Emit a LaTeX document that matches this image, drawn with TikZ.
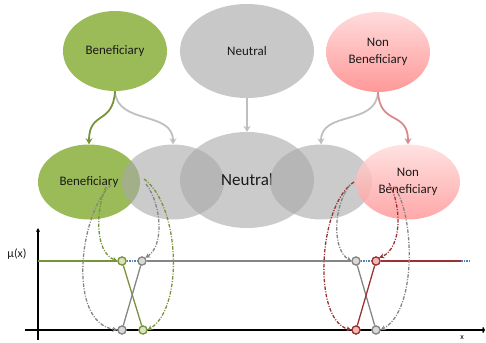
\documentclass[tikz,border=0pt]{standalone}
\usepackage{fontspec}
\setmainfont{Carlito}
\usetikzlibrary{shapes.geometric,arrows.meta}
\definecolor{grn}{HTML}{9BBB59}
\definecolor{grnd}{HTML}{77933C}
\definecolor{grnl}{HTML}{D7E4BD}
\definecolor{gry}{HTML}{A8A8A8}
\definecolor{gryt}{HTML}{C8C8C8}
\definecolor{gryl}{HTML}{D9D9D9}
\definecolor{gryd}{HTML}{858585}
\definecolor{grya}{HTML}{BFBFBF}
\definecolor{redd}{HTML}{993333}
\definecolor{redl}{HTML}{F2B8B8}
\definecolor{pnkt}{HTML}{FFDCDC}
\definecolor{pnkb}{HTML}{FF9898}
\definecolor{pnka}{HTML}{D98A8A}
\definecolor{blu}{HTML}{4F81BD}
\definecolor{txt}{HTML}{1A1A1A}
\begin{document}
\begin{tikzpicture}[x=1pt,y=-1pt,
  ell/.style={ellipse,inner sep=0pt,align=center,text=txt,font=\fontsize{13}{17}\selectfont},
  gellipse/.style={ell,fill=gry,fill opacity=0.6,text opacity=1},
  pellipse/.style={ell,top color=pnkt,bottom color=pnkb,draw=none},
  toparrow/.style={line width=1.8pt,-{Stealth[length=6pt,width=7pt]}},
  dd/.style={line width=1.3pt,dash pattern=on 3.5pt off 1.5pt on 1pt off 1.5pt,-{Stealth[length=5pt,width=5pt]}},
  dot/.style={circle,minimum size=8pt,inner sep=0pt,line width=1.2pt},
  lvl/.style={line width=1.3pt},
  bdot/.style={line width=1.3pt,blu,dash pattern=on 1.5pt off 1pt}
]
\useasboundingbox (0,0) rectangle (486,342);

% top row
\node[ell,fill=grn,minimum width=104pt,minimum height=80pt] (tb) at (115,51) {Beneficiary};
\node[ell,fill=gryt,minimum width=134pt,minimum height=94pt] (tnn) at (247,51) {Neutral};
\node[pellipse,minimum width=104pt,minimum height=80pt] (tp) at (378,52) {Non\\Beneficiary};

% middle row
\node[ell,fill=grn,minimum width=102pt,minimum height=75pt] (mb) at (89,182) {Beneficiary};
\node[gellipse,minimum width=102pt,minimum height=75pt] (mgl) at (173,182) {};
\node[gellipse,minimum width=134pt,minimum height=96pt,font=\fontsize{17}{20}\selectfont] (mn) at (247,180) {Neutral};
\node[gellipse,minimum width=102pt,minimum height=75pt] (mgr) at (321,182) {};
\node[pellipse,minimum width=104pt,minimum height=75pt,fill opacity=0.85,text opacity=1] (mp) at (408,182) {Non\\Beneficiary};

% top to middle arrows
\draw[toparrow,grya] (tb.south) .. controls +(2,34) and +(0,-34) .. (mgl.north);
\draw[toparrow,grnd] (tb.south) .. controls +(-2,34) and +(0,-34) .. (mb.north);
\draw[toparrow,grya] (tnn.south) -- (mn.north);
\draw[toparrow,grya] (tp.south) .. controls +(-2,34) and +(0,-34) .. (mgr.north);
\draw[toparrow,pnka] (tp.south) .. controls +(2,34) and +(0,-34) .. (mp.north);

% axes
\coordinate (yb) at (38,340);
\coordinate (yt) at (38,228);
\coordinate (xl) at (25,330);
\coordinate (xr) at (485,330);
\draw[line width=1.3pt,-{Stealth[length=4pt,width=4pt]}] (yb) -- (yt);
\draw[line width=1.3pt,-{Straight Barb[length=1.5pt,width=5pt]}] (xl) -- (xr);
\node[font=\fontsize{12}{14}\selectfont,text=txt] (mu) at (17,254) {μ(x)};
\node[font=\fontsize{8}{9}\selectfont] (xlab) at (462,338) {x};

% points
\coordinate (ylev) at (38,261);
\coordinate (rend) at (461,261);
\coordinate (bend) at (469,261);
\node[dot,draw=grnd,fill=grnl] (G1) at (122,261) {};
\node[dot,draw=gryd,fill=gryl] (A1) at (142,261) {};
\node[dot,draw=gryd,fill=gryl] (A0) at (122,330) {};
\node[dot,draw=grnd,fill=grnl] (G0) at (143,330) {};
\node[dot,draw=gryd,fill=gryl] (A2) at (356,261) {};
\node[dot,draw=redd,fill=redl] (R1) at (376,261) {};
\node[dot,draw=redd,fill=redl] (R0) at (356,330) {};
\node[dot,draw=gryd,fill=gryl] (A3) at (376,330) {};

% level lines
\draw[lvl,grnd] (ylev) -- (G1.west);
\draw[bdot] (G1.east) -- (A1.west);
\draw[lvl,gryd] (A1.east) -- (A2.west);
\draw[bdot] (A2.east) -- (R1.west);
\draw[lvl,redd] (R1.east) -- (rend);
\draw[bdot] (rend) -- (bend);

% crossing lines
\draw[lvl,grnd] (G1) -- (G0);
\draw[lvl,gryd] (A1) -- (A0);
\draw[lvl,gryd] (A2) -- (A3);
\draw[lvl,redd] (R1) -- (R0);

% redraw dots on top
\foreach \n/\d/\f in {G1/grnd/grnl,A1/gryd/gryl,A0/gryd/gryl,G0/grnd/grnl,A2/gryd/gryl,R1/redd/redl,R0/redd/redl,A3/gryd/gryl}
  \node[dot,draw=\d,fill=\f] at (\n) {};

% dashed loops, left
\coordinate (c1) at (111,185);
\coordinate (c2) at (106,187);
\coordinate (c3) at (146,184);
\coordinate (c4) at (144,179);
\draw[dd,gryd] (c1) .. controls (80,212) and (66,322) .. (A0.west);
\draw[dd,grnd] (c2) .. controls (96,208) and (94,252) .. (G1.west);
\draw[dd,gryd] (c3) .. controls (162,205) and (164,246) .. (A1.north east);
\draw[dd,grnd] (c4) .. controls (180,205) and (184,308) .. (G0.east);

% dashed loops, right
\coordinate (d1) at (354,182);
\coordinate (d2) at (350,185);
\coordinate (d3) at (389,183);
\coordinate (d4) at (394,187);
\draw[dd,redd] (d1) .. controls (318,205) and (312,320) .. (R0.west);
\draw[dd,gryd] (d2) .. controls (333,206) and (332,250) .. (A2.west);
\draw[dd,redd] (d3) .. controls (402,206) and (402,248) .. (R1.north east);
\draw[dd,gryd] (d4) .. controls (414,212) and (418,310) .. (A3.east);
\end{tikzpicture}
\end{document}
